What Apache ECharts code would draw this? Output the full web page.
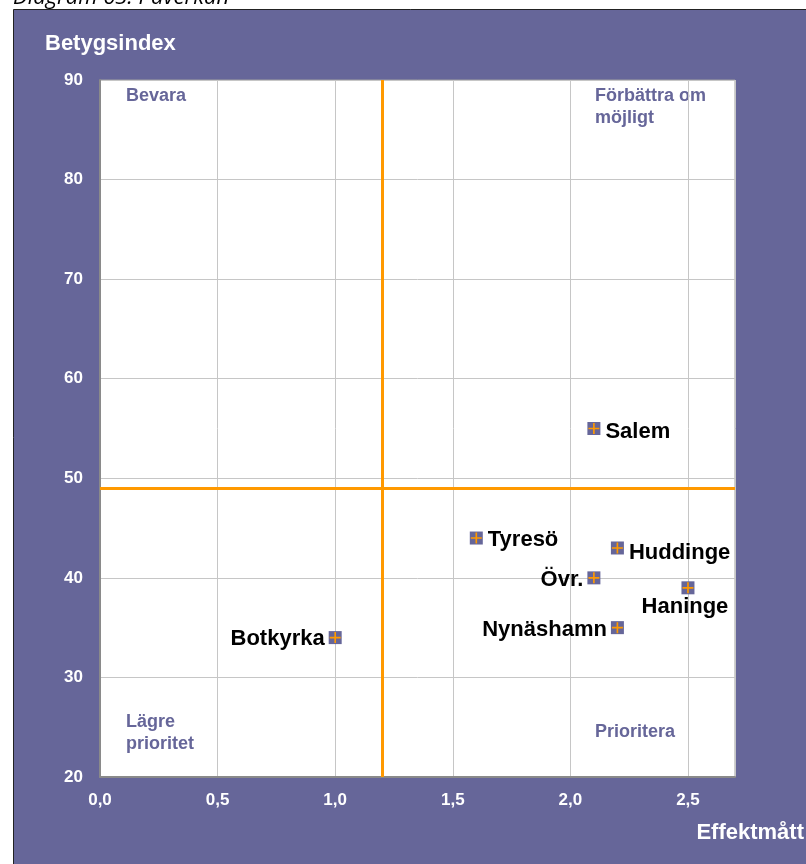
<!DOCTYPE html>
<html>
<head>
<meta charset="utf-8">
<style>
  html, body { margin: 0; padding: 0; background: #ffffff; }
  #chart { width: 806px; height: 864px; }
</style>
<script src="https://cdn.jsdelivr.net/npm/echarts@6/dist/echarts.min.js"></script>
</head>
<body>
<div id="chart"></div>
<script>
// Kommuner och deras värden
const kommuner = ['Salem', 'Tyresö', 'Huddinge', 'Övr.', 'Haninge', 'Nynäshamn', 'Botkyrka'];
const effektmatt = [2.1, 1.6, 2.2, 2.1, 2.5, 2.2, 1.0];
const betygsindex = [55, 44, 43, 40, 39, 35, 34];

// Kvadrantgränser
const gransEffekt = 1.2;
const gransBetyg = 49;

// Axelgränser
const xMin = 0, xMax = 2.7, xStep = 0.5;
const yMin = 20, yMax = 90, yStep = 10;

const PURPLE = '#666699';
const ORANGE = '#FF9900';
const FONT = '"Liberation Sans", Arial, sans-serif';

// Etikettplacering per kommun
const labelPlacement = {
  'Salem':     { position: 'right', offset: [-1, 3] },
  'Tyresö':    { position: 'right', offset: [-1, 2] },
  'Huddinge':  { position: 'right', offset: [-1, 5] },
  'Övr.':      { position: 'left',  offset: [2, 2] },
  'Haninge':   { position: 'bottom', offset: [-3, -4] },
  'Nynäshamn': { position: 'left',  offset: [2, 2] },
  'Botkyrka':  { position: 'left',  offset: [2, 1] }
};

const chart = echarts.init(document.getElementById('chart'), null, { renderer: 'canvas' });

const quadrantText = (left, top, text) => ({
  type: 'text', left: left, top: top,
  style: { text: text, font: 'bold 18px ' + FONT, fill: PURPLE, lineHeight: 22 }
});

const option = {
  backgroundColor: '#ffffff',
  animation: false,
  graphic: [
    {
      type: 'rect',
      z: -10,
      shape: { x: 13.5, y: 9.5, width: 810, height: 870 },
      style: { fill: PURPLE, stroke: '#222222', lineWidth: 1 }
    },
    {
      type: 'text', left: 13, top: -13,
      style: { text: 'Diagram 63: Påverkan', font: 'italic 22px "Open Sans", "DejaVu Sans", sans-serif', fill: '#000000' }
    },
    {
      type: 'text', left: 45, top: 33,
      style: { text: 'Betygsindex', font: 'bold 22px ' + FONT, fill: '#ffffff', lineHeight: 22 }
    },
    {
      type: 'text', right: 2, top: 822,
      style: { text: 'Effektmått', font: 'bold 22px ' + FONT, fill: '#ffffff', lineHeight: 22 }
    },
    quadrantText(126, 85, 'Bevara'),
    quadrantText(595, 85, 'Förbättra om\nmöjligt'),
    quadrantText(126, 711, 'Lägre\nprioritet'),
    quadrantText(595, 721, 'Prioritera')
  ],
  grid: {
    left: 100, top: 80, width: 635, height: 697,
    show: true, backgroundColor: '#ffffff', borderColor: '#a0a0a0', borderWidth: 1
  },
  xAxis: {
    type: 'value', min: xMin, max: xMax, interval: xStep,
    axisLine: { show: true, lineStyle: { color: '#8a8a8a', width: 2 } },
    axisTick: { show: false },
    splitLine: { show: true, lineStyle: { color: '#c6c6c6', width: 1 } },
    axisLabel: {
      showMaxLabel: false,
      margin: 15,
      color: '#ffffff', fontFamily: FONT, fontWeight: 'bold', fontSize: 17,
      formatter: v => (Math.abs(v - xMax) < 1e-9 ? '' : v.toFixed(1).replace('.', ','))
    }
  },
  yAxis: {
    type: 'value', min: yMin, max: yMax, interval: yStep,
    axisLine: { show: true, lineStyle: { color: '#8a8a8a', width: 2 } },
    axisTick: { show: false },
    splitLine: { show: true, lineStyle: { color: '#c6c6c6', width: 1 } },
    axisLabel: {
      margin: 17,
      color: '#ffffff', fontFamily: FONT, fontWeight: 'bold', fontSize: 17
    }
  },
  series: [
    {
      type: 'scatter',
      // Varje punkt får sin egen etikettposition
      data: kommuner.map((k, i) => ({
        value: [effektmatt[i], betygsindex[i], k],
        label: { position: labelPlacement[k].position, offset: labelPlacement[k].offset }
      })),
      symbol: 'rect',
      symbolSize: 13,
      itemStyle: { color: PURPLE, opacity: 1 },
      z: 3,
      label: {
        show: true,
        formatter: p => p.value[2],
        fontFamily: FONT, fontWeight: 'bold', fontSize: 22, color: '#000000',
        distance: 6
      },
      markLine: {
        silent: true,
        symbol: ['none', 'none'],
        label: { show: false },
        lineStyle: { color: ORANGE, width: 3, type: 'solid' },
        data: [
          { xAxis: gransEffekt },
          { yAxis: gransBetyg }
        ]
      }
    },
    {
      type: 'scatter',
      data: kommuner.map((k, i) => [effektmatt[i], betygsindex[i]]),
      symbol: 'path://M4.25,0H5.75V10H4.25Z M0,4.25H10V5.75H0Z',
      symbolSize: 11,
      itemStyle: { color: ORANGE, opacity: 1 },
      z: 4,
      silent: true
    }
  ]
};

chart.setOption(option);
</script>
</body>
</html>
